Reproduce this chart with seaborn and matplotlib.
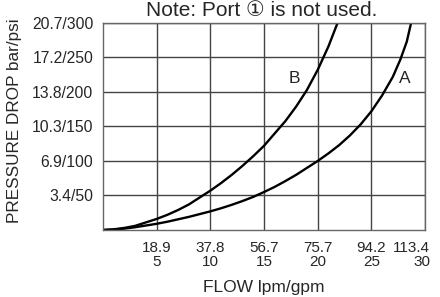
import matplotlib
matplotlib.use("Agg")
import matplotlib.pyplot as plt
import matplotlib.transforms as mtransforms
import seaborn as sns
import pandas as pd

# Curve B (flow gpm, pressure psi)
b_gpm = [0, 1, 2, 3, 4, 5, 6, 7, 8, 9, 10, 11, 12, 13, 14, 15, 16, 17, 18, 19, 20, 21, 21.85]
b_psi = [0, 1, 3, 6, 11, 16, 22, 29, 37, 47, 57, 68, 80, 93, 107, 122, 140, 158, 179, 203, 232, 266, 300]
# Curve A
a_gpm = [0, 1, 2, 3, 4, 5, 6, 7, 8, 9, 10, 11, 12, 13, 14, 15, 16, 17, 18, 19, 20, 21, 22, 23, 24, 25, 26, 27, 27.7, 28.3, 28.7]
a_psi = [0, 0.5, 2, 4, 6.5, 9, 12, 15.5, 19, 23, 27, 31.5, 36.5, 42, 48, 55, 62.5, 71, 80, 90, 100, 111, 123, 137, 153, 172, 195, 222, 247, 273, 300]

x_ticks = [5, 10, 15, 20, 25, 30]
x_tick_labels = ["18.9\n5", "37.8\n10", "56.7\n15", "75.7\n20", "94.2\n25", "113.4\n30"]
y_ticks = [50, 100, 150, 200, 250, 300]
y_tick_labels = ["3.4/50", "6.9/100", "10.3/150", "13.8/200", "17.2/250", "20.7/300"]

sns.set_style("white")
plt.rcParams['font.family'] = ['Liberation Sans', 'DejaVu Sans']

df = pd.concat([
    pd.DataFrame({"gpm": b_gpm, "psi": b_psi, "curve": "B"}),
    pd.DataFrame({"gpm": a_gpm, "psi": a_psi, "curve": "A"}),
])

fig = plt.figure(figsize=(4.4, 2.97), dpi=100)
ax = fig.add_axes([0.234, 0.2256, 0.732, 0.697])

sns.lineplot(data=df, x="gpm", y="psi", hue="curve", palette={"A": "black", "B": "black"},
             sort=False, estimator=None, linewidth=1.7, legend=False, ax=ax)

ax.set_xlim(0, 30)
ax.set_ylim(0, 300)
ax.set_xticks(x_ticks)
ax.set_xticklabels(x_tick_labels, fontsize=11, linespacing=0.95)
ax.set_yticks(y_ticks)
ax.set_yticklabels(y_tick_labels, fontsize=11.3)
ax.tick_params(axis='x', length=0, pad=8)
ax.tick_params(axis='y', length=0, pad=7)
ax.grid(True, color='#444444', linewidth=1)
for s in ax.spines.values():
    s.set_color('#666666')
    s.set_linewidth(1)

# keep the last x tick label inside the figure
last = ax.get_xticklabels()[-1]
last.set_horizontalalignment('right')
last.set_multialignment('right')
last.set_transform(last.get_transform() + mtransforms.ScaledTranslation(5 / 100, 0, fig.dpi_scale_trans))

ax.set_xlabel("FLOW lpm/gpm", fontsize=12.5, labelpad=8)
ax.set_ylabel("PRESSURE DROP bar/psi", fontsize=12.3)
ax.yaxis.set_label_coords(-0.25, 0.53)

ax.text(17.8, 220, "B", fontsize=12.5, ha='center', va='center')
ax.text(28.1, 220, "A", fontsize=12.5, ha='center', va='center')

fig.text(0.595, 1 - 16.5 / 297, "Note: Port \u2460 is not used.", fontsize=15, ha='center', va='baseline')

fig.savefig("out.png", dpi=100)
